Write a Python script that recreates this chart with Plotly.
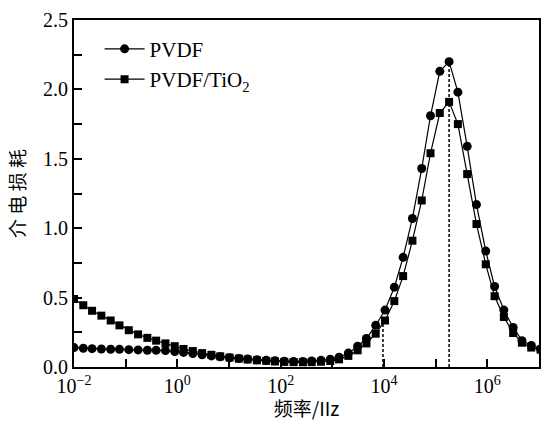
import plotly.graph_objects as go

log_freq = [-2.00, -1.82, -1.65, -1.47, -1.29, -1.12, -0.94, -0.76, -0.58, -0.41,
            -0.23, -0.05, 0.12, 0.30, 0.48, 0.66, 0.83, 1.01, 1.19, 1.36,
            1.54, 1.72, 1.89, 2.07, 2.25, 2.43, 2.60, 2.78, 2.96, 3.13,
            3.31, 3.49, 3.66, 3.84, 4.02, 4.20, 4.37, 4.55, 4.73, 4.90,
            5.08, 5.26, 5.43, 5.61, 5.79, 5.97, 6.14, 6.32, 6.50, 6.67,
            6.85, 7.03]

pvdf = [0.14, 0.135, 0.132, 0.13, 0.128, 0.127, 0.125, 0.123, 0.121, 0.12,
        0.118, 0.112, 0.105, 0.097, 0.088, 0.08, 0.073, 0.067, 0.062, 0.057,
        0.052, 0.048, 0.045, 0.042, 0.04, 0.04, 0.043, 0.048, 0.056, 0.07,
        0.10, 0.15, 0.205, 0.30, 0.41, 0.575, 0.79, 1.07, 1.43, 1.81,
        2.13, 2.20, 1.98, 1.59, 1.17, 0.835, 0.58, 0.41, 0.285, 0.19,
        0.155, 0.13]

pvdf_tio2 = [0.49, 0.445, 0.405, 0.37, 0.335, 0.30, 0.265, 0.235, 0.21, 0.19,
             0.17, 0.15, 0.13, 0.115, 0.10, 0.088, 0.077, 0.068, 0.06, 0.054,
             0.048, 0.044, 0.04, 0.037, 0.035, 0.034, 0.035, 0.038, 0.043, 0.055,
             0.08, 0.12, 0.17, 0.24, 0.335, 0.475, 0.655, 0.91, 1.20, 1.54,
             1.83, 1.91, 1.75, 1.39, 1.03, 0.74, 0.51, 0.36, 0.245, 0.175,
             0.14, 0.125]

# dashed reference lines: (log frequency, top value)
ref_log_freq = [3.98, 5.26]
ref_top = [0.335, 2.20]

x_tick_exps = [-2, -1, 0, 1, 2, 3, 4, 5, 6, 7]
x_tick_text = ["10<sup>−2</sup>", "", "10<sup>0</sup>", "", "10<sup>2</sup>", "",
               "10<sup>4</sup>", "", "10<sup>6</sup>", ""]
y_tick_vals = [0, 0.25, 0.5, 0.75, 1.0, 1.25, 1.5, 1.75, 2.0, 2.25, 2.5]
y_tick_text = ["0.0", "", "0.5", "", "1.0", "", "1.5", "", "2.0", "", "2.5"]

freq = [10 ** v for v in log_freq]

fig = go.Figure()
for lf, top in zip(ref_log_freq, ref_top):
    fig.add_trace(go.Scatter(x=[10 ** lf, 10 ** lf], y=[0, top], mode="lines",
                             line=dict(color="black", width=1.5, dash="3px,2px"),
                             showlegend=False, hoverinfo="skip"))

fig.add_trace(go.Scatter(x=freq, y=pvdf, mode="lines+markers", name="PVDF",
                         line=dict(color="black", width=1.2),
                         marker=dict(symbol="circle", size=9, color="black")))
fig.add_trace(go.Scatter(x=freq, y=pvdf_tio2, mode="lines+markers",
                         name="PVDF/TiO<sub>2</sub>",
                         line=dict(color="black", width=1.2),
                         marker=dict(symbol="square", size=8, color="black")))

serif = "Liberation Serif, Times New Roman, serif"
fig.update_layout(
    width=544, height=421,
    margin=dict(l=74, r=3, t=20, b=54),
    paper_bgcolor="white", plot_bgcolor="white",
    font=dict(family=serif, size=20, color="black"),
    showlegend=True,
    legend=dict(x=0.055, y=0.975, xanchor="left", yanchor="top",
                bgcolor="rgba(0,0,0,0)", font=dict(family=serif, size=21),
                itemwidth=40, tracegroupgap=0),
    xaxis=dict(type="log", range=[-2, 7],
               tickvals=[10 ** e for e in x_tick_exps], ticktext=x_tick_text,
               ticks="inside", ticklen=8, tickwidth=1.5, tickcolor="black",
               showline=True, linecolor="black", linewidth=2, mirror=True,
               showgrid=False, zeroline=False,
               title=dict(text="频率/IIz", standoff=8,
                          font=dict(family="Noto Sans CJK SC, " + serif, size=19))),
    yaxis=dict(range=[0, 2.5], tickvals=y_tick_vals, ticktext=y_tick_text,
               ticks="inside", ticklen=8, tickwidth=1.5, tickcolor="black",
               showline=True, linecolor="black", linewidth=2, mirror=True,
               showgrid=False, zeroline=False,
               title=dict(text="介 电 损 耗", standoff=12,
                          font=dict(family="Noto Sans CJK SC", size=19))),
)
fig.update_xaxes(tickfont=dict(family=serif, size=20))
fig.update_yaxes(tickfont=dict(family=serif, size=20))

fig.write_html("out.html", config={"displayModeBar": False},
               post_script="document.body.style.margin='0';document.body.style.padding='0';")
